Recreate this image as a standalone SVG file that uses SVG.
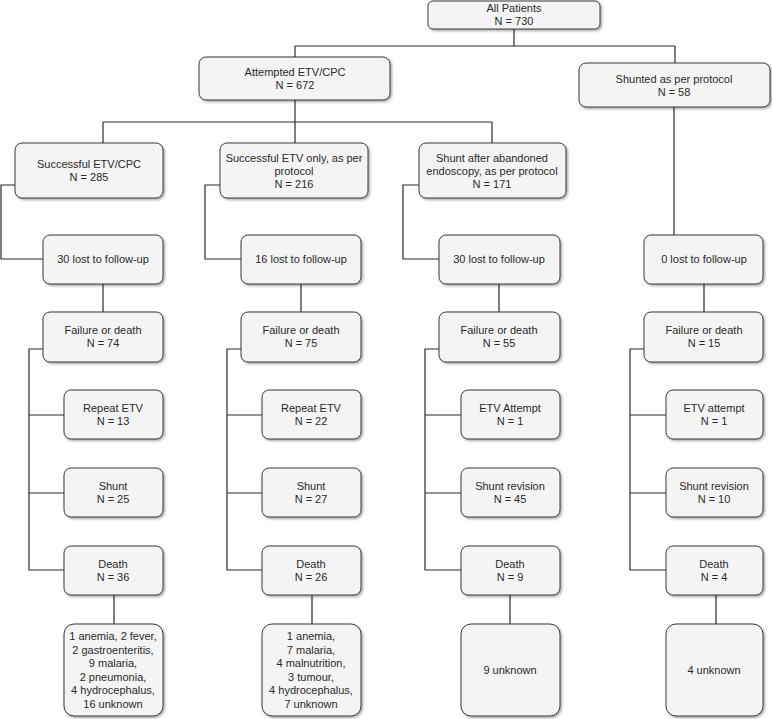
<svg xmlns="http://www.w3.org/2000/svg" width="772" height="719" viewBox="0 0 772 719">
<defs>
<style>
.b{fill:#f4f4f4;stroke:#3a3a3a;stroke-width:1;filter:url(#sh)}
.t{font-family:"Liberation Sans",Arial,sans-serif;font-size:11px;fill:#2a2a2a;text-anchor:middle}
.c{fill:none;stroke:#2a2a2a;stroke-width:1.2}
</style>
<filter id="sh" x="-10%" y="-10%" width="130%" height="130%">
<feDropShadow dx="1.5" dy="1.5" stdDeviation="0.8" flood-color="#000" flood-opacity="0.35"/>
</filter>
</defs>
<rect width="772" height="719" fill="#fff"/>
<g id="connectors">
<path class="c" d="M514 29V46M295 46H675M295 46V57M675 46V63"/>
<path class="c" d="M295 100V122M103 122H492M103 122V143M295 122V143M492 122V143"/>
<path class="c" d="M15 185H1V259H43M220 185H205V259H241M419 185H403V259H439M674 107V235"/>
<path class="c" d="M103 284V312M301 284V312M499 284V312M704 284V312"/>
<path class="c" d="M43 349H29V570H64M29 415H64M29 493H64"/>
<path class="c" d="M241 349H227V570H262M227 415H262M227 493H262"/>
<path class="c" d="M439 349H425V570H461M425 415H461M425 493H461"/>
<path class="c" d="M644 349H630V570H666M630 415H666M630 493H666"/>
<path class="c" d="M114 595V624M312 595V624M510 595V624M716 595V624"/>
</g>
<g id="all"><rect class="b" x="428" y="1" width="172" height="28" rx="5"/><text class="t" x="514" y="12">All Patients</text><text class="t" x="514" y="25">N = 730</text></g>
<g id="attempted"><rect class="b" x="199" y="57" width="191" height="43" rx="7"/><text class="t" x="295" y="76">Attempted ETV/CPC</text><text class="t" x="295" y="89">N = 672</text></g>
<g id="shunted"><rect class="b" x="579" y="63" width="191" height="44" rx="7"/><text class="t" x="674" y="83">Shunted as per protocol</text><text class="t" x="674" y="96">N = 58</text></g>
<g id="succ"><rect class="b" x="15" y="143" width="148" height="55" rx="7"/><text class="t" x="89" y="168">Successful ETV/CPC</text><text class="t" x="89" y="181">N = 285</text></g>
<g id="etvonly"><rect class="b" x="220" y="143" width="148" height="55" rx="7"/><text class="t" x="294" y="162">Successful ETV only, as per</text><text class="t" x="294" y="175">protocol</text><text class="t" x="294" y="188">N = 216</text></g>
<g id="abandoned"><rect class="b" x="419" y="143" width="147" height="55" rx="7"/><text class="t" x="492" y="162">Shunt after abandoned</text><text class="t" x="492" y="175">endoscopy, as per protocol</text><text class="t" x="492" y="188">N = 171</text></g>
<g id="lost1"><rect class="b" x="43" y="235" width="120" height="49" rx="7"/><text class="t" x="103" y="263">30 lost to follow-up</text></g>
<g id="lost2"><rect class="b" x="241" y="235" width="120" height="49" rx="7"/><text class="t" x="301" y="263">16 lost to follow-up</text></g>
<g id="lost3"><rect class="b" x="439" y="235" width="121" height="49" rx="7"/><text class="t" x="499" y="263">30 lost to follow-up</text></g>
<g id="lost4"><rect class="b" x="644" y="235" width="119" height="49" rx="7"/><text class="t" x="704" y="263">0 lost to follow-up</text></g>
<g id="fail1"><rect class="b" x="43" y="312" width="120" height="50" rx="7"/><text class="t" x="103" y="334">Failure or death</text><text class="t" x="103" y="347">N = 74</text></g>
<g id="fail2"><rect class="b" x="241" y="312" width="120" height="50" rx="7"/><text class="t" x="301" y="334">Failure or death</text><text class="t" x="301" y="347">N = 75</text></g>
<g id="fail3"><rect class="b" x="439" y="312" width="121" height="50" rx="7"/><text class="t" x="499" y="334">Failure or death</text><text class="t" x="499" y="347">N = 55</text></g>
<g id="fail4"><rect class="b" x="644" y="312" width="119" height="50" rx="7"/><text class="t" x="704" y="334">Failure or death</text><text class="t" x="704" y="347">N = 15</text></g>
<g id="rep1"><rect class="b" x="64" y="390" width="99" height="49" rx="7"/><text class="t" x="113" y="412">Repeat ETV</text><text class="t" x="113" y="425">N = 13</text></g>
<g id="rep2"><rect class="b" x="262" y="390" width="99" height="49" rx="7"/><text class="t" x="311" y="412">Repeat ETV</text><text class="t" x="311" y="425">N = 22</text></g>
<g id="rep3"><rect class="b" x="461" y="390" width="99" height="49" rx="7"/><text class="t" x="510" y="412">ETV Attempt</text><text class="t" x="510" y="425">N = 1</text></g>
<g id="rep4"><rect class="b" x="666" y="390" width="97" height="49" rx="7"/><text class="t" x="714" y="412">ETV attempt</text><text class="t" x="714" y="425">N = 1</text></g>
<g id="sh1"><rect class="b" x="64" y="468" width="99" height="49" rx="7"/><text class="t" x="113" y="490">Shunt</text><text class="t" x="113" y="503">N = 25</text></g>
<g id="sh2"><rect class="b" x="262" y="468" width="99" height="49" rx="7"/><text class="t" x="311" y="490">Shunt</text><text class="t" x="311" y="503">N = 27</text></g>
<g id="sh3"><rect class="b" x="461" y="468" width="99" height="49" rx="7"/><text class="t" x="510" y="490">Shunt revision</text><text class="t" x="510" y="503">N = 45</text></g>
<g id="sh4"><rect class="b" x="666" y="468" width="97" height="49" rx="7"/><text class="t" x="714" y="490">Shunt revision</text><text class="t" x="714" y="503">N = 10</text></g>
<g id="d1"><rect class="b" x="64" y="546" width="99" height="49" rx="7"/><text class="t" x="113" y="568">Death</text><text class="t" x="113" y="581">N = 36</text></g>
<g id="d2"><rect class="b" x="262" y="546" width="99" height="49" rx="7"/><text class="t" x="311" y="568">Death</text><text class="t" x="311" y="581">N = 26</text></g>
<g id="d3"><rect class="b" x="461" y="546" width="99" height="49" rx="7"/><text class="t" x="510" y="568">Death</text><text class="t" x="510" y="581">N = 9</text></g>
<g id="d4"><rect class="b" x="666" y="546" width="97" height="49" rx="7"/><text class="t" x="714" y="568">Death</text><text class="t" x="714" y="581">N = 4</text></g>
<g id="c1"><rect class="b" x="64" y="624" width="99" height="92" rx="10"/>
<text class="t" x="113" y="640">1 anemia, 2 fever,</text><text class="t" x="113" y="654">2 gastroenteritis,</text><text class="t" x="113" y="667">9 malaria,</text><text class="t" x="113" y="681">2 pneumonia,</text><text class="t" x="113" y="694">4 hydrocephalus,</text><text class="t" x="113" y="708">16 unknown</text></g>
<g id="c2"><rect class="b" x="262" y="624" width="99" height="92" rx="10"/>
<text class="t" x="311" y="640">1 anemia,</text><text class="t" x="311" y="654">7 malaria,</text><text class="t" x="311" y="667">4 malnutrition,</text><text class="t" x="311" y="681">3 tumour,</text><text class="t" x="311" y="694">4 hydrocephalus,</text><text class="t" x="311" y="708">7 unknown</text></g>
<g id="c3"><rect class="b" x="461" y="624" width="99" height="92" rx="10"/><text class="t" x="510" y="674">9 unknown</text></g>
<g id="c4"><rect class="b" x="666" y="624" width="97" height="92" rx="10"/><text class="t" x="714" y="674">4 unknown</text></g>
</svg>
